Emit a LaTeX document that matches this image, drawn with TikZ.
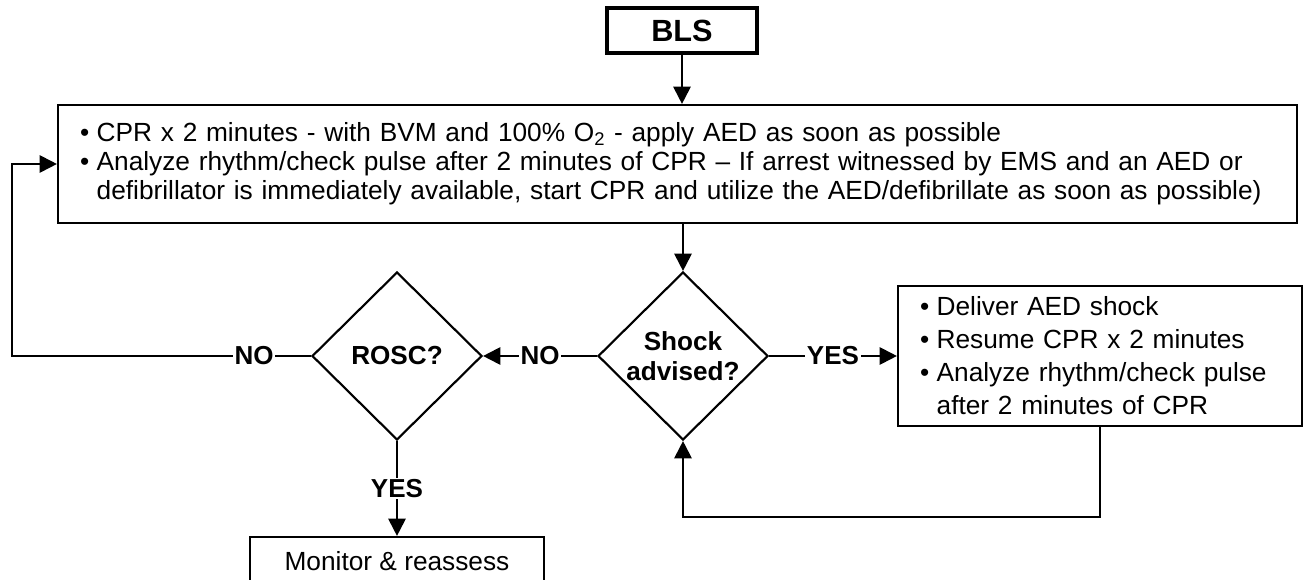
\documentclass[tikz,border=0pt]{standalone}
\usepackage{fontspec}
\setmainfont{Liberation Sans}
\usetikzlibrary{shapes.geometric,arrows.meta}

\def\bul{\makebox[12.5pt][l]{\textbullet}}
\def\hang{\hspace*{12.5pt}}
\colorlet{flow line}{black}
\tikzset{box/.style={draw=flow line, line width=1.6pt, inner xsep=16.5pt, inner ysep=0pt, align=left,
        font=\fontsize{19.7}{21.75}\selectfont},
    decision/.style={draw=flow line, line width=1.6pt, diamond, minimum width=127.5pt, minimum height=126pt,
        inner sep=0pt, align=center, font=\fontsize{19.6}{22}\selectfont\bfseries},
    lbl/.style={fill=white, inner sep=1.2pt, font=\fontsize{19.5}{21}\selectfont\bfseries},
    arr/.style={draw=flow line, line width=1.5pt, -{Triangle[length=13pt,width=13pt]}}}

\begin{document}
\begin{tikzpicture}[x=0.75pt, y=-0.75pt]
    \useasboundingbox (0,0) rectangle (1304,580);
    \node[draw, line width=3pt, minimum width=112.5pt, minimum height=33.75pt,
        font=\fontsize{23}{25}\selectfont\bfseries] (bls) at (682,30.5) {BLS};
    \node[box, text width=896.25pt, minimum height=88.5pt] (cpr) at (677.5,164) {%
        \bul CPR x 2 minutes - with BVM and 100\% O\textsubscript{2} - apply AED as soon as possible\\
        \bul Analyze rhythm/check pulse after 2 minutes of CPR -- If arrest witnessed by EMS and an AED or\\
        \hang defibrillator is immediately available, start CPR and utilize the AED/defibrillate as soon as possible)};
    \node[decision] (shock) at (683,356) {Shock\\advised?};
    \node[decision] (rosc) at (397,356) {ROSC?};
    \node[box, text width=270pt, minimum height=105pt, font=\fontsize{19.7}{24.75}\selectfont] (rbox) at (1100,356) {%
        \bul Deliver AED shock\\
        \bul Resume CPR x 2 minutes\\
        \bul Analyze rhythm/check pulse\\
        \hang after 2 minutes of CPR};
    \node[box, align=center, minimum width=220.5pt, minimum height=36pt] (mon) at (397,561) {Monitor \& reassess};
    \coordinate (loop) at (1100,517);
    \coordinate (back) at (12,164);

    \draw[arr] (bls.south) -- (bls.south |- cpr.north);
    \draw[arr] (cpr.south -| shock) -- (shock.north);
    \draw[arr] (shock.west) -- node[lbl] {NO} (rosc.east);
    \draw[arr] (shock.east) -- node[lbl] {YES} (rbox.west);
    \draw[arr] (rbox.south) |- (loop) -| (shock.south);
    \draw[arr] (rosc.south) -- node[lbl] {YES} (mon.north);
    \draw[arr] (rosc.west) -- node[lbl, pos=0.19] {NO} (rosc.west -| back) |- (cpr.west);
\end{tikzpicture}
\end{document}
